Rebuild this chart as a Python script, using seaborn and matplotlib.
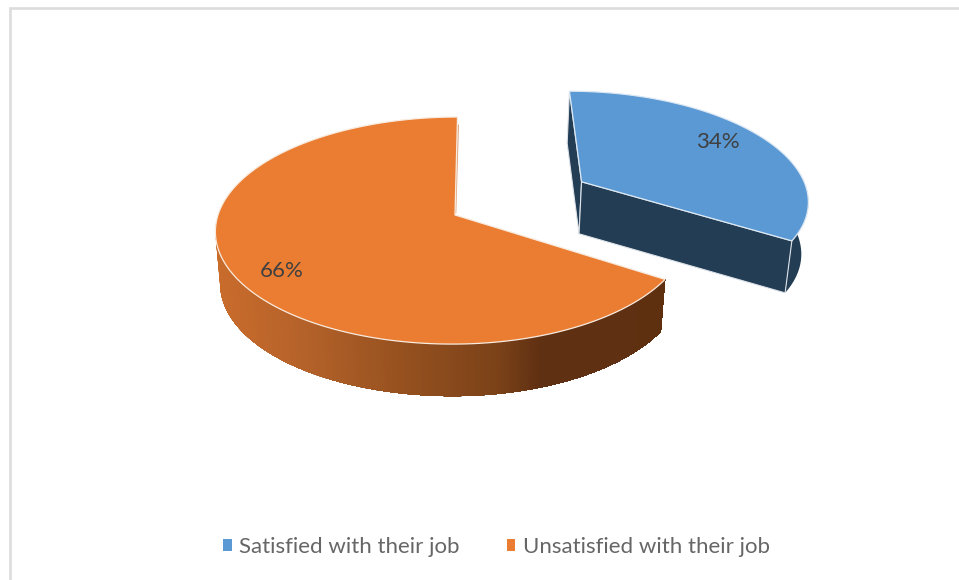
import numpy as np
import pandas as pd
import seaborn as sns
import matplotlib
matplotlib.use("Agg")
import matplotlib.pyplot as plt
from matplotlib.patches import Patch, Polygon
from matplotlib.colors import to_rgb

# Survey result
categories = ["Satisfied with their job", "Unsatisfied with their job"]
shares = [34, 66]
top_colors = ["#5A99D4", "#EB7D32"]
wall_color = "#233D54"
# Shading of the orange rim as a function of page x
rim_x = [216, 300, 400, 500, 540, 670]
rim_colors = ["#C96C2C", "#B5622A", "#96511F", "#7A4118", "#5F3012", "#5F3010"]

sns.set_theme(style="white", font="Lato")
df = pd.DataFrame({"category": categories, "share": shares})

# Projection of the tilted disc onto the page
CX, CY = 455.0, 215.0
A_LEFT, A_RIGHT, B, K = 237.0, 232.0, 111.4, 0.137
SKEW = 2.5
DEPTH = 52.0
SHRINK = 0.98
EXPLODE = 0.645


def project(u, v, lower=False):
    u, v = np.asarray(u, float), np.asarray(v, float)
    s = 1.0 / (1.0 + K * v)
    x = np.where(u < 0, A_LEFT, A_RIGHT) * u * s + SKEW * v
    y = B * v * s
    if lower:
        x = x * SHRINK
    return CX + x, CY - y + (DEPTH if lower else 0.0)


def arc(a0, a1, offset, lower=False, n=160):
    t = np.radians(np.linspace(a0, a1, n))
    return project(np.cos(t) + offset[0], np.sin(t) + offset[1], lower)


def wall(ax, a0, a1, offset, color, z):
    xt, yt = arc(a0, a1, offset, n=120)
    xb, yb = arc(a0, a1, offset, lower=True, n=120)
    pts = np.r_[np.c_[xt, yt], np.c_[xb, yb][::-1]]
    ax.add_patch(Polygon(pts, closed=True, fc=color, ec="none", zorder=z))


def radial_face(ax, apex, angle, offset, color, z):
    px = np.cos(np.radians(angle)) + offset[0]
    py = np.sin(np.radians(angle)) + offset[1]
    xo, yo = project(px, py)
    xl, yl = project(px, py, True)
    x0, y0 = project(*apex)
    x1, y1 = project(*apex, True)
    ax.add_patch(Polygon([(x0, y0), (xo, yo), (xl, yl), (x1, y1)],
                         closed=True, fc=color, ec="#DDE3E9", lw=0.8, zorder=z))


fig = plt.figure(figsize=(9.59, 5.80), dpi=100, facecolor="white")
ax = fig.add_axes([0, 0, 1, 1])
ax.set_xlim(0, 959)
ax.set_ylim(580, 0)
ax.axis("off")

# Outer chart frame: top and left edges only
ax.plot([10, 10, 959], [580, 8, 8], color="#DCDCDC", lw=1.9, zorder=1,
        solid_joinstyle="miter")

# Slice angles run clockwise from twelve o'clock
fractions = df["share"].to_numpy() / df["share"].sum()
sweep = 360 * fractions
blue_start, blue_end = 90.0, 90.0 - sweep[0]
orange_start, orange_end = blue_end, blue_end - sweep[1]

mid = np.radians((blue_start + blue_end) / 2)
off_blue = (EXPLODE * np.cos(mid), EXPLODE * np.sin(mid))
off_none = (0.0, 0.0)

# Orange rim: painted left to right, each band running on to the slice corner
rim_end = 360 + orange_start
rim_rgb = np.array([to_rgb(c) for c in rim_colors])
for a in np.linspace(180 + 4, rim_end, 240)[:-1]:
    xm, _ = project(np.cos(np.radians(a)), np.sin(np.radians(a)))
    shade = [np.interp(float(xm), rim_x, rim_rgb[:, i]) for i in range(3)]
    wall(ax, a, rim_end, off_none, shade, 2)

# Orange top, with the sliver of the hidden radial face beside its back edge
xa, ya = project(0, 0)
xs, ys = arc(orange_start, orange_end, off_none, n=300)
xt, yt = project(0, 1)
ax.plot([float(xa) + 0.6, float(xt) + 0.8], [float(ya) - 2, float(yt) + 8],
        color="#DDA57E", lw=1.0, zorder=2)
ax.add_patch(Polygon(np.r_[[(xa, ya)], np.c_[xs, ys]], closed=True,
                     fc=top_colors[1], ec="#F8EBDF", lw=0.9, zorder=3))

# Blue slice: back radial face, outer wall, front radial face, top
radial_face(ax, off_blue, blue_start, off_blue, wall_color, 4)
wall(ax, blue_end, blue_end + 34, off_blue, wall_color, 4)
radial_face(ax, off_blue, blue_end, off_blue, wall_color, 5)
xa, ya = project(*off_blue)
xs, ys = arc(blue_start, blue_end, off_blue, n=200)
ax.add_patch(Polygon(np.r_[[(xa, ya)], np.c_[xs, ys]], closed=True,
                     fc=top_colors[0], ec="#DCE8F3", lw=0.9, zorder=6))

# Data labels
label_pos = [(718, 142), (282, 271)]
for value, (lx, ly) in zip(df["share"], label_pos):
    ax.text(lx, ly, f"{value}%", ha="center", va="center", fontsize=16,
            color="#404040", zorder=7)

# Legend along the bottom
handles = [Patch(fc=c, ec="none", label=n) for c, n in zip(top_colors, categories)]
ax.legend(handles=handles, loc="center", bbox_to_anchor=(496.5, 547),
          bbox_transform=ax.transData, ncol=2, frameon=False, fontsize=16,
          labelcolor="#666666", handlelength=0.40, handleheight=0.40,
          handletextpad=0.33, columnspacing=2.1, borderpad=0)

fig.savefig("out.png", dpi=100)
